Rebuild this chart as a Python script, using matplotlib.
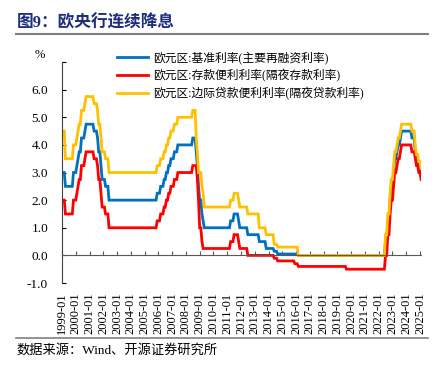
import numpy as np
import pandas as pd
import matplotlib
matplotlib.use('Agg')
import matplotlib.pyplot as plt
from matplotlib.lines import Line2D

plt.rcParams['font.family'] = ['Liberation Serif', 'Noto Sans CJK SC']

# ECB policy rates: month of change and level at month end (%)
change_month = ['1999-01', '1999-04', '1999-11', '2000-02', '2000-03', '2000-04', '2000-06',
                '2000-09', '2000-10', '2001-05', '2001-08', '2001-09', '2001-11', '2001-12',
                '2002-03', '2002-06', '2005-12', '2006-03', '2006-06', '2006-08', '2006-10',
                '2006-12', '2007-03', '2007-06', '2008-07', '2008-10', '2008-11', '2008-12',
                '2009-01', '2009-03', '2009-04', '2009-05', '2011-04', '2011-07', '2011-11',
                '2011-12', '2012-07', '2013-05', '2013-11', '2014-06', '2014-09', '2015-12',
                '2016-03', '2019-09', '2022-07', '2022-09', '2022-11', '2022-12', '2023-02',
                '2023-03', '2023-05', '2023-06', '2023-08', '2023-09', '2024-06', '2024-09',
                '2024-10', '2024-12', '2025-02']
mro = [3.00, 2.50, 3.00, 3.25, 3.50, 3.75, 4.25, 4.50, 4.75, 4.50, 4.25, 3.75, 3.25, 2.75,
       2.50, 2.00, 2.25, 2.50, 2.75, 3.00, 3.25, 3.50, 3.75, 4.00, 4.25, 3.75, 3.25, 2.50,
       2.00, 1.50, 1.25, 1.00, 1.25, 1.50, 1.25, 1.00, 0.75, 0.50, 0.25, 0.15, 0.05, 0.05,
       0.00, 0.00, 0.50, 1.25, 2.00, 2.50, 3.00, 3.50, 3.75, 4.00, 4.25, 4.50, 4.25, 3.65,
       3.40, 3.15, 2.90]
deposit = [2.00, 1.50, 2.00, 2.25, 2.50, 2.75, 3.25, 3.50, 3.75, 3.50, 3.25, 2.75, 2.25, 1.75,
           1.50, 1.00, 1.25, 1.50, 1.75, 2.00, 2.25, 2.50, 2.75, 3.00, 3.25, 3.25, 2.75, 2.00,
           1.00, 0.50, 0.25, 0.25, 0.50, 0.75, 0.50, 0.25, 0.00, 0.00, 0.00, -0.10, -0.20, -0.30,
           -0.40, -0.50, 0.00, 0.75, 1.50, 2.00, 2.50, 3.00, 3.25, 3.50, 3.75, 4.00, 3.75, 3.50,
           3.25, 3.00, 2.75]
mlf = [4.50, 3.50, 4.00, 4.25, 4.50, 4.75, 5.25, 5.50, 5.75, 5.50, 5.25, 4.75, 4.25, 3.75,
       3.50, 3.00, 3.25, 3.50, 3.75, 4.00, 4.25, 4.50, 4.75, 5.00, 5.25, 4.25, 3.75, 3.00,
       3.00, 2.50, 2.25, 1.75, 2.00, 2.25, 2.00, 1.75, 1.50, 1.00, 0.75, 0.40, 0.30, 0.30,
       0.00, 0.00, 0.75, 1.50, 2.25, 2.75, 3.25, 3.75, 4.00, 4.25, 4.50, 4.75, 4.50, 3.90,
       3.65, 3.40, 3.15]

series_names = ['欧元区:基准利率(主要再融资利率)',
                '欧元区:存款便利利率(隔夜存款利率)',
                '欧元区:边际贷款便利利率(隔夜贷款利率)']
colors = ['#0070C0', '#FF0000', '#FFC000']

months = pd.period_range('1999-01', '2025-02', freq='M')


def monthly(vals):
    s = pd.Series(vals, index=pd.PeriodIndex(change_month, freq='M'))
    return s.reindex(months).ffill().values


x = np.arange(len(months))
tick_pos = x[months.month == 1]
tick_lab = [p.strftime('%Y-%m') for p in months[months.month == 1]]

fig = plt.figure(figsize=(4.45, 3.72), dpi=100)
ax = fig.add_axes([0.1393, 0.2392, 0.807, 0.594])

for vals, c, name in zip([mro, deposit, mlf], colors, series_names):
    ax.plot(x, monthly(vals), color=c, lw=2, label=name, solid_joinstyle='miter')

ax.set_xlim(0, len(months) - 1)
ax.set_ylim(-1, 7)
ax.set_yticks(np.arange(-1, 8))
ax.set_yticklabels(['%.1f' % v for v in range(-1, 7)] + [''], fontsize=9.5)
ax.tick_params(axis='y', direction='in', length=3, pad=10, colors='#000000')

for s in ['top', 'right']:
    ax.spines[s].set_visible(False)
ax.spines['bottom'].set_position(('data', 0))
ax.spines['bottom'].set_color('#595959')
ax.spines['left'].set_color('#404040')
ax.set_xticks(tick_pos)
ax.tick_params(axis='x', direction='in', length=3, labelbottom=False, color='#595959')

sec = ax.secondary_xaxis('bottom')
sec.spines['bottom'].set_visible(False)
sec.set_xticks(tick_pos)
sec.set_xticklabels(tick_lab, rotation=90, fontsize=9)
sec.tick_params(axis='x', length=0, pad=7)

ax.legend(loc='upper left', bbox_to_anchor=(0.263, 0.863), bbox_transform=fig.transFigure,
          frameon=False, fontsize=8.5, handlelength=2.6, handletextpad=0.45,
          labelspacing=0.42, borderpad=0, borderaxespad=0)

fig.text(0.09, 1 - 55 / 372, '%', fontsize=9, ha='center', va='center')

fig.text(0.038, 1 - 22.7 / 372, '图9：欧央行连续降息', fontsize=12, fontweight='bold',
         color='#1F2E7A', va='center', ha='left')
fig.add_artist(Line2D([0.036, 0.962], [1 - 34 / 372] * 2, color='#808080', lw=1.5))
fig.add_artist(Line2D([0.036, 0.962], [1 - 337.7 / 372] * 2, color='#808080', lw=1.2))
fig.text(0.038, 1 - 350 / 372, '数据来源：Wind、开源证券研究所', fontsize=9.5, va='center', ha='left')

fig.savefig('out.png', dpi=100)
